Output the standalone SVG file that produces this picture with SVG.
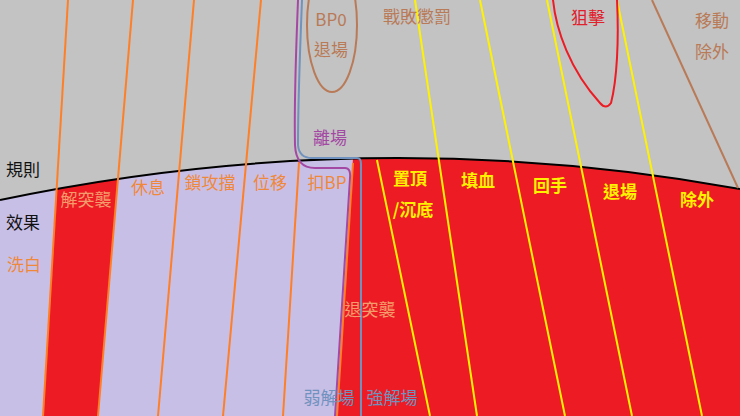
<svg xmlns="http://www.w3.org/2000/svg" width="740" height="416" viewBox="0 0 740 416">
<style>
.t{font-family:"Noto Sans CJK TC","Noto Sans CJK SC",sans-serif;font-size:17px;text-anchor:middle}
.blk{fill:#111;text-anchor:start}
.org{fill:#f0883a}
.sal{fill:#f59c6c}
.brn{fill:#b97a57}
.pur{fill:#a349a4}
.red{fill:#e0202a}
.yel{fill:#fff200;font-weight:bold}
.blu{fill:#7092be}
.ln{fill:none;stroke-width:2}
.o{stroke:#ff7f27}
.y{stroke:#fff200}
</style>
<defs>
<clipPath id="below"><path d="M0,200 Q370,122 740,189 L740,416 L0,416 Z"/></clipPath>
</defs>
<rect width="740" height="416" fill="#c3c3c3"/>
<g id="areas" clip-path="url(#below)">
<rect width="740" height="416" fill="#c8bfe7"/>
<polygon points="356,110 740,110 740,416 337,416" fill="#ed1c24"/>
<polygon points="68,0 133,0 98,416 43,416" fill="#ed1c24"/>
</g>
<g id="connectors">
<path class="ln" d="M0,200 Q370,122 740,189" stroke="#000"/>
<line class="ln o" x1="68" y1="0" x2="43" y2="416"/>
<line class="ln o" x1="133" y1="0" x2="98" y2="416"/>
<line class="ln o" x1="194" y1="0" x2="158" y2="416"/>
<line class="ln o" x1="261" y1="0" x2="223" y2="416"/>
<line class="ln o" x1="299" y1="162" x2="283" y2="416"/>
<line class="ln o" x1="353" y1="163" x2="337" y2="416"/>
<line class="ln y" x1="415" y1="0" x2="477" y2="416"/>
<line class="ln y" x1="480" y1="0" x2="565" y2="416"/>
<line class="ln y" x1="547" y1="0" x2="632" y2="416"/>
<line class="ln y" x1="617" y1="0" x2="702" y2="416"/>
<line class="ln y" x1="377" y1="160" x2="430" y2="416"/>
<line class="ln" x1="652" y1="0" x2="738" y2="188" stroke="#b97a57"/>
<path class="ln" d="M298,0 C296,50 294,100 295,145 Q296,168 315,168 L345,168 Q351,168 350,178 L335,416" stroke="#a349a4"/>
<path class="ln" d="M302,0 C300,50 298,100 298,145 Q299,158 312,158 L357,158 Q361,158 361,164 L361,416" stroke="#7092be"/>
<ellipse class="ln" cx="332" cy="25" rx="25" ry="67" stroke="#b97a57"/>
<path class="ln" d="M553,0 C556,30 570,70 600,103 Q606,110 611,103 C617,80 619,40 617,0" stroke="#ed1c24"/>
</g>
<g id="rules"><text class="t blk" x="6" y="176">規則</text></g>
<g id="effects"><text class="t blk" x="6" y="229">效果</text></g>
<g id="n-wash"><text class="t org" x="24" y="271">洗白</text></g>
<g id="n-jietuxi"><text class="t sal" x="86" y="206">解突襲</text></g>
<g id="n-rest"><text class="t org" x="148" y="194">休息</text></g>
<g id="n-lock"><text class="t org" x="210" y="189">鎖攻擋</text></g>
<g id="n-move"><text class="t org" x="270" y="189">位移</text></g>
<g id="n-bp"><text class="t org" x="327" y="189">扣BP</text></g>
<g id="n-bp0"><text class="t brn" x="331" y="26">BP0</text><text class="t brn" x="331" y="56">退場</text></g>
<g id="n-leave"><text class="t pur" x="330" y="144">離場</text></g>
<g id="n-defeat"><text class="t brn" x="417" y="23">戰敗懲罰</text></g>
<g id="n-snipe"><text class="t red" x="588" y="24">狙擊</text></g>
<g id="n-moveex"><text class="t brn" x="712" y="27">移動</text><text class="t brn" x="712" y="58">除外</text></g>
<g id="n-top"><text class="t yel" x="410" y="185">置頂</text><text class="t yel" x="413" y="216">/沉底</text></g>
<g id="n-heal"><text class="t yel" x="478" y="187">填血</text></g>
<g id="n-hand"><text class="t yel" x="550" y="192">回手</text></g>
<g id="n-exit"><text class="t yel" x="620" y="198">退場</text></g>
<g id="n-banish"><text class="t yel" x="697" y="206">除外</text></g>
<g id="n-tuituxi"><text class="t sal" x="370" y="316">退突襲</text></g>
<g id="n-weak"><text class="t blu" x="329" y="404">弱解場</text></g>
<g id="n-strong"><text class="t blu" x="392" y="404">強解場</text></g>
</svg>
